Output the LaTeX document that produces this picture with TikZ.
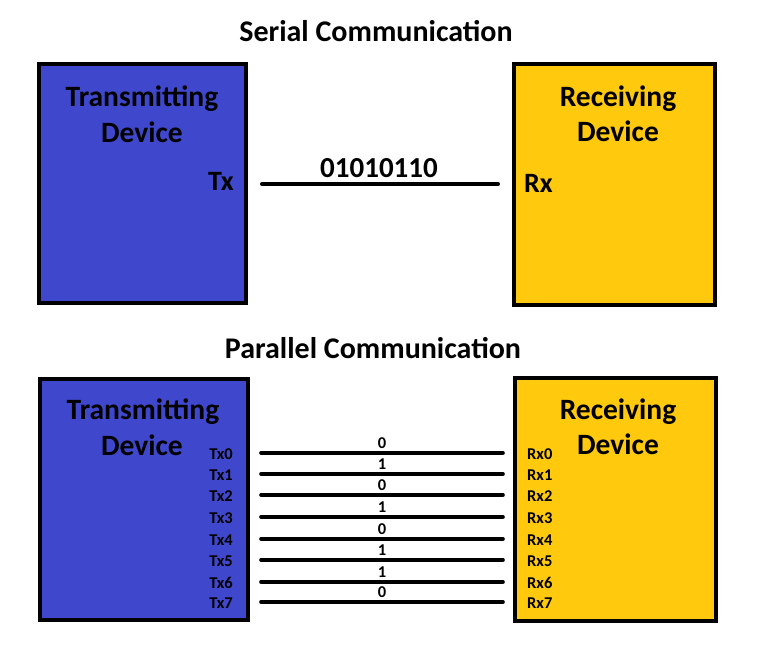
\documentclass[tikz,border=0pt]{standalone}
\usepackage{fontspec}
\setmainfont{Carlito}
\definecolor{devblue}{RGB}{63,72,204}
\definecolor{devyellow}{RGB}{255,201,14}
\tikzset{
  devbox/.style={draw=black, line width=4pt, rectangle, inner sep=0pt},
  title/.style={font=\fontsize{30}{32}\selectfont\bfseries, inner sep=0pt, anchor=base},
  big/.style={font=\fontsize{29.5}{31}\selectfont\bfseries, inner sep=0pt, anchor=base},
  port/.style={font=\fontsize{28}{30}\selectfont\bfseries, inner sep=0pt},
  small/.style={font=\fontsize{16.5}{18}\selectfont\bfseries, inner sep=0pt},
  wire/.style={line width=4pt, line cap=round},
  pwire/.style={line width=3.6pt, line cap=round},
}
\begin{document}
\begin{tikzpicture}[x=1pt, y=-1pt]
\useasboundingbox (0,0) rectangle (757,660);
% ---------- Serial ----------
\node[title] (st) at (376,42) {Serial Communication};
\node[devbox, fill=devblue, minimum width=207pt, minimum height=239pt] (stx) at (142.5,183.5) {};
\node[devbox, fill=devyellow, minimum width=201pt, minimum height=241pt] (srx) at (614.5,184.5) {};
\node[big] (st1) at (142,107) {Transmitting};
\node[big] (st2) at (142,143) {Device};
\node[big] (sr1) at (618,107) {Receiving};
\node[big] (sr2) at (618,142) {Device};
\node[port, anchor=base east] (txl) at (234,191) {Tx};
\node[port, anchor=base west] (rxl) at (524,193) {Rx};
\coordinate (sa) at (262,184);
\coordinate (sb) at (498,184);
\draw[wire] (sa) -- (sb);
\node[port, font=\fontsize{29}{31}\selectfont\bfseries, anchor=base] (bits) at (379,178) {01010110};
% ---------- Parallel ----------
\node[title] (pt) at (373,358) {Parallel Communication};
\node[devbox, fill=devblue, minimum width=208pt, minimum height=241pt] (ptx) at (144,499.5) {};
\node[devbox, fill=devyellow, minimum width=201pt, minimum height=243pt] (prx) at (615.5,499.5) {};
\node[big] (pt1) at (143,419) {Transmitting};
\node[big] (pt2) at (142,455) {Device};
\node[big] (pr1) at (618,419) {Receiving};
\node[big] (pr2) at (618,454) {Device};
\foreach \i/\yy/\b in {0/453/0,1/474/1,2/495/0,3/517/1,4/539/0,5/560/1,6/582/1,7/602/0}{
  \coordinate (pa\i) at (261,\yy);
  \coordinate (pb\i) at (503,\yy);
  \draw[pwire] (pa\i) -- (pb\i);
  \node[small, anchor=base] (bit\i) at (382,\yy-5) {\b};
  \node[small, anchor=base east] (tx\i) at (233,\yy+6) {Tx\i};
  \node[small, anchor=base west] (rx\i) at (527,\yy+6) {Rx\i};
}
\end{tikzpicture}
\end{document}
